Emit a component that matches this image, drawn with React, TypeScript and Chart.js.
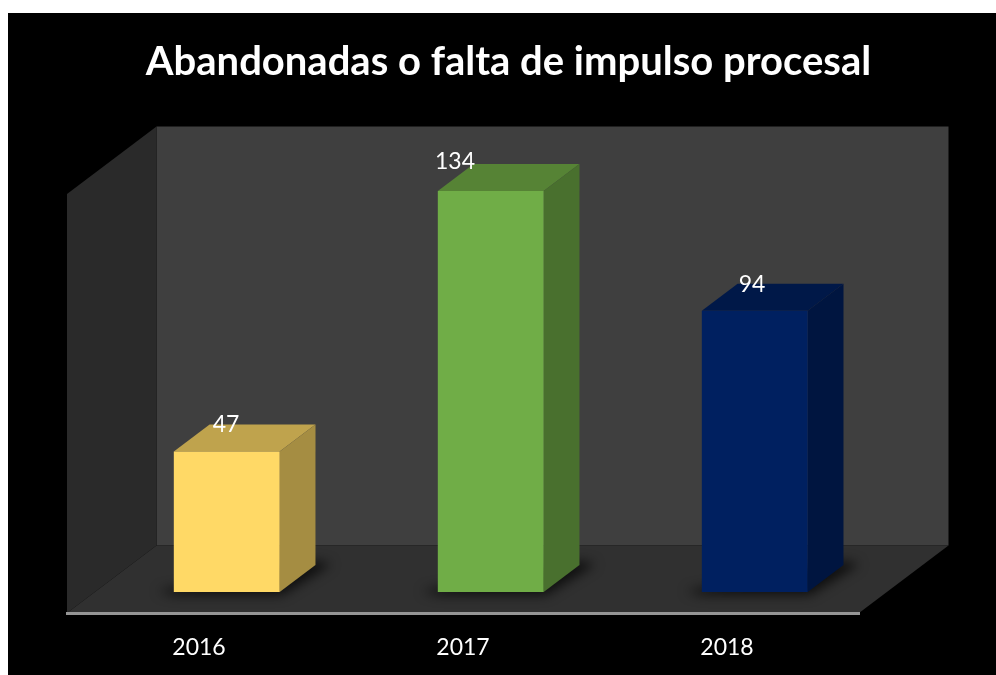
import React, { useEffect, useRef } from "react";
import { Chart, registerables } from "chart.js";

Chart.register(...registerables);

const titleText = "Abandonadas o falta de impulso procesal";
const categories = ["2016", "2017", "2018"];
const values = [47, 134, 94];
const frontColors = ["#FFD966", "#70AD47", "#002060"];
const topColors = ["#BFA34D", "#568335", "#001848"];
const sideColors = ["#A58D42", "#49702E", "#001540"];
const labelShiftX = [27, -8, 25];
const labelShiftY = [-48, -50, -47];

const FONT = "Lato, Carlito, Calibri, sans-serif";
const DX = 89.5;
const DY = -67.5;
const NEAR = 0.31;
const FAR = 0.71;

const threeD = {
  id: "threeD",
  beforeDraw(chart: any) {
    const { ctx, chartArea: a } = chart;
    ctx.save();
    ctx.fillStyle = "#3F3F3F";
    ctx.fillRect(a.left + DX, a.top + DY, a.right - a.left, a.bottom - a.top);
    ctx.fillStyle = "#2A2A2A";
    ctx.beginPath();
    ctx.moveTo(a.left, a.top);
    ctx.lineTo(a.left + DX, a.top + DY);
    ctx.lineTo(a.left + DX, a.bottom + DY);
    ctx.lineTo(a.left, a.bottom);
    ctx.closePath();
    ctx.fill();
    ctx.fillStyle = "#303030";
    ctx.beginPath();
    ctx.moveTo(a.left, a.bottom);
    ctx.lineTo(a.right, a.bottom);
    ctx.lineTo(a.right + DX, a.bottom + DY);
    ctx.lineTo(a.left + DX, a.bottom + DY);
    ctx.closePath();
    ctx.fill();
    ctx.restore();
  },
  beforeDatasetsDraw(chart: any) {
    const { ctx } = chart;
    const bars = chart.getDatasetMeta(0).data;
    const sx = DX * NEAR;
    const sy = DY * NEAR;
    const ox = DX * (FAR - NEAR);
    const oy = DY * (FAR - NEAR);
    ctx.save();
    bars.forEach((b: any) => {
      const l = b.x - b.width / 2 + sx;
      const r = b.x + b.width / 2 + sx;
      const yb = b.base + sy;
      ctx.save();
      ctx.filter = "blur(6px)";
      ctx.fillStyle = "rgba(0,0,0,0.7)";
      ctx.beginPath();
      ctx.moveTo(l - 16, yb - 1);
      ctx.lineTo(l, yb + 3);
      ctx.lineTo(r + 2, yb + 3);
      ctx.lineTo(r + ox + 16, yb + oy - 1);
      ctx.lineTo(r + ox, yb + oy - 4);
      ctx.lineTo(l, yb - 4);
      ctx.closePath();
      ctx.fill();
      ctx.restore();
    });
    bars.forEach((b: any, i: number) => {
      const l = b.x - b.width / 2 + sx;
      const r = b.x + b.width / 2 + sx;
      const yt = b.y + sy;
      const yb = b.base + sy;
      ctx.fillStyle = topColors[i];
      ctx.beginPath();
      ctx.moveTo(l, yt);
      ctx.lineTo(r, yt);
      ctx.lineTo(r + ox, yt + oy);
      ctx.lineTo(l + ox, yt + oy);
      ctx.closePath();
      ctx.fill();
      ctx.fillStyle = sideColors[i];
      ctx.beginPath();
      ctx.moveTo(r, yt);
      ctx.lineTo(r + ox, yt + oy);
      ctx.lineTo(r + ox, yb + oy);
      ctx.lineTo(r, yb);
      ctx.closePath();
      ctx.fill();
    });
    ctx.restore();
    ctx.save();
    ctx.translate(sx, sy);
  },
  afterDatasetsDraw(chart: any) {
    const { ctx } = chart;
    ctx.restore();
    const bars = chart.getDatasetMeta(0).data;
    ctx.save();
    ctx.fillStyle = "#FFFFFF";
    ctx.font = `23px ${FONT}`;
    ctx.textAlign = "center";
    ctx.textBaseline = "middle";
    bars.forEach((b: any, i: number) => {
      ctx.fillText(String(values[i]), b.x + labelShiftX[i], b.y + labelShiftY[i]);
    });
    ctx.restore();
  },
};

export default function App() {
  const ref = useRef<HTMLCanvasElement>(null);
  useEffect(() => {
    const chart = new Chart(ref.current as HTMLCanvasElement, {
      type: "bar",
      data: {
        labels: categories,
        datasets: [
          {
            data: values,
            backgroundColor: frontColors,
            categoryPercentage: 1,
            barPercentage: 0.401,
            borderWidth: 0,
          },
        ],
      },
      plugins: [threeD],
      options: {
        responsive: false,
        animation: false,
        layout: { padding: { left: 13, right: 0, top: 0, bottom: 0 } },
        plugins: {
          legend: { display: false },
          tooltip: { enabled: false },
          title: {
            display: true,
            text: titleText,
            color: "#FFFFFF",
            font: { family: FONT, size: 40, weight: "bold", lineHeight: 1.2 },
            padding: { top: 25, bottom: 108 },
          },
        },
        scales: {
          x: {
            grid: { display: false, drawTicks: false },
            border: { display: true, color: "#959595", width: 3 },
            ticks: {
              color: "#FFFFFF",
              font: { family: FONT, size: 23 },
              padding: 21,
              maxRotation: 0,
            },
            afterFit(scale: any) {
              scale.height = 62;
            },
          },
          y: {
            min: 0,
            max: 140,
            position: "left",
            grid: { display: false },
            border: { display: false },
            ticks: { display: false },
            afterFit(scale: any) {
              scale.width = 46;
            },
          },
          yRight: {
            min: 0,
            max: 140,
            position: "right",
            grid: { display: false },
            border: { display: false },
            ticks: { display: false },
            afterFit(scale: any) {
              scale.width = 137;
            },
          },
        },
      } as any,
    });
    return () => chart.destroy();
  }, []);
  return (
    <div style={{ position: "fixed", left: 8, top: 13, width: 988, height: 662, background: "#000" }}>
      <canvas ref={ref} width={988} height={662} style={{ display: "block" }} />
    </div>
  );
}
